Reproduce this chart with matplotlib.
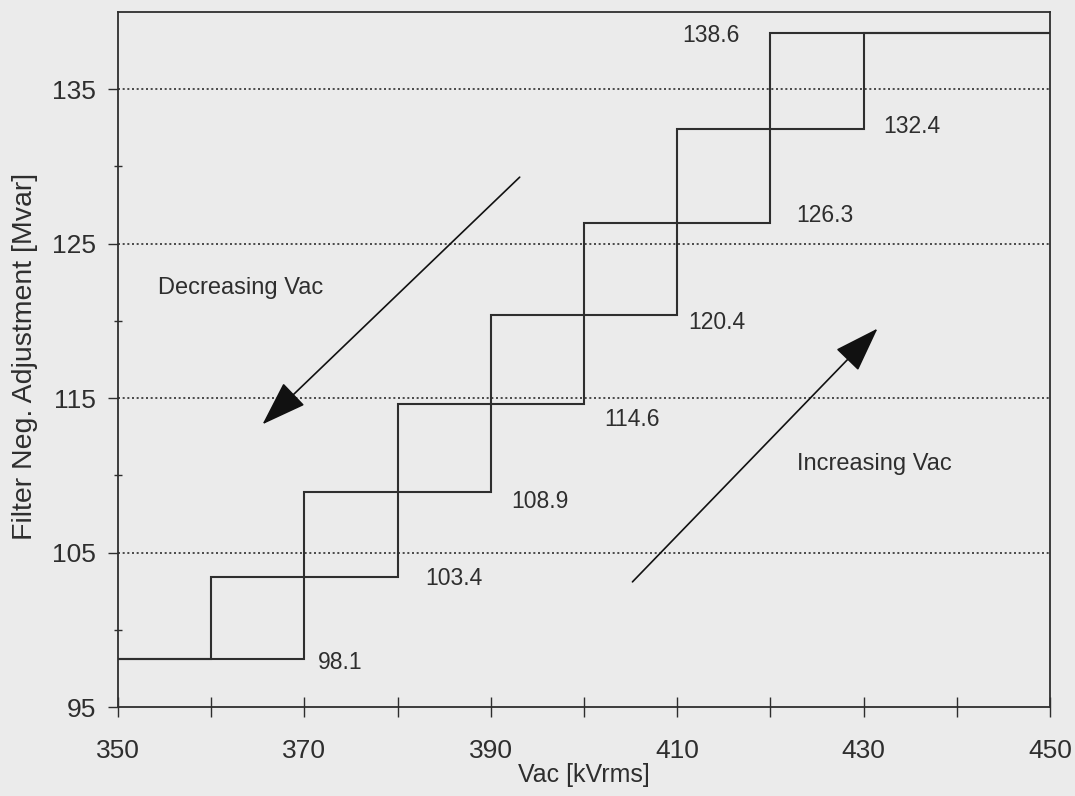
import matplotlib.pyplot as plt
from matplotlib.ticker import MultipleLocator, FuncFormatter

plt.rcParams["font.family"] = ["Liberation Sans", "DejaVu Sans"]

# filter switching levels [Mvar] and the voltages where they change [kVrms]
levels = [98.1, 103.4, 108.9, 114.6, 120.4, 126.3, 132.4, 138.6]
v_up = [370, 380, 390, 400, 410, 420, 430]    # switch-in when Vac rises
v_down = [360, 370, 380, 390, 400, 410, 420]  # switch-out when Vac falls

# label positions (x, y) for each level
label_xy = [(373.8, 97.9), (386.0, 103.3), (395.3, 108.3), (405.2, 113.6),
            (414.3, 119.9), (425.9, 126.8), (435.2, 132.6), (413.6, 138.5)]

x_min, x_max = 350, 450
y_min, y_max = 95, 140

ink = "#2e2e2e"
bg = "#ebebeb"


def staircase(edges, start, stop):
    xs, ys = [start], [levels[0]]
    for i, e in enumerate(edges):
        xs += [e, e]
        ys += [levels[i], levels[i + 1]]
    xs.append(stop)
    ys.append(levels[-1])
    return xs, ys


fig = plt.figure(figsize=(10.75, 7.96), dpi=100, facecolor=bg)
ax = fig.add_axes([0.1098, 0.1118, 0.8669, 0.8733], facecolor=bg)

xu, yu = staircase(v_up, x_min, x_max)
xd, yd = staircase(v_down, x_min, x_max)
ax.plot(xu, yu, color=ink, lw=1.5, solid_joinstyle="miter")
ax.plot(xd, yd, color=ink, lw=1.5, solid_joinstyle="miter")

for lv, (lx, ly) in zip(levels, label_xy):
    ax.text(lx, ly, f"{lv:.1f}", fontsize=16.5, color=ink, ha="center", va="center")

# hysteresis direction arrows
arrow = dict(arrowstyle="-|>,head_length=1.6,head_width=0.55", color="#111111",
             lw=1.2, mutation_scale=18, shrinkA=0, shrinkB=0)
ax.annotate("", xy=(365.5, 113.3), xytext=(393.1, 129.3), arrowprops=arrow)
ax.annotate("", xy=(431.5, 119.5), xytext=(405.2, 103.1), arrowprops=arrow)
ax.text(354.3, 122.1, "Decreasing Vac", fontsize=17, color=ink, va="center")
ax.text(422.9, 110.7, "Increasing Vac", fontsize=17, color=ink, va="center")

for g in [105, 115, 125, 135]:
    ax.axhline(g, color=ink, lw=1.2, ls=(0, (1.2, 1.6)))

ax.set_xlim(x_min, x_max)
ax.set_ylim(y_min, y_max)
ax.xaxis.set_major_locator(MultipleLocator(10))
ax.xaxis.set_major_formatter(FuncFormatter(lambda v, p: f"{v:.0f}" if (int(round(v)) - 350) % 20 == 0 else ""))
ax.set_yticks([95, 105, 115, 125, 135])
ax.set_yticklabels(["95", "105", "115", "125", "135"])
ax.set_yticks([100, 110, 120, 130], minor=True)

ax.tick_params(axis="x", direction="inout", length=14, width=1, colors=ink,
               labelsize=19, pad=16)
ax.tick_params(axis="y", which="major", direction="out", length=7, width=1,
               colors=ink, labelsize=19, pad=9)
ax.tick_params(axis="y", which="minor", direction="inout", length=6, width=1, colors=ink)
for s in ax.spines.values():
    s.set_color(ink)
    s.set_linewidth(1.3)

ax.set_xlabel("Vac [kVrms]", fontsize=18, color=ink, labelpad=0)
ax.set_ylabel("Filter Neg. Adjustment [Mvar]", fontsize=20.5, color=ink)
ax.yaxis.set_label_coords(-0.086, 0.505)

fig.savefig("out.png", dpi=100, facecolor=bg)
